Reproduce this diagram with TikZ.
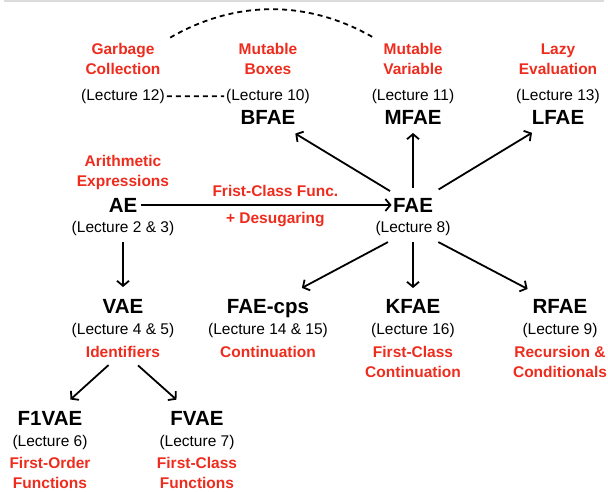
\documentclass[tikz,border=0pt]{standalone}
\usepackage{fontspec}
\setmainfont{Liberation Sans}
\usetikzlibrary{positioning, arrows.meta}
\definecolor{featred}{RGB}{238,44,30}

\begin{document}
\begin{tikzpicture}[
        x=1pt, y=1pt,
        lang/.style={font=\fontsize{20.5}{24}\selectfont\bfseries, inner sep=0, outer sep=0, text height=15pt, text depth=0pt}, % language name
        lec/.style={font=\fontsize{15.5}{18}\selectfont, inner sep=0, outer sep=0, text height=11.5pt, text depth=3pt}, % lecture number
        feat/.style={font=\fontsize{15.5}{20}\selectfont\bfseries, text=featred, align=center, inner sep=0}, % feature in red
        arr/.style={line width=1.8pt, -{Straight Barb[length=5pt, width=12pt]}},
        dashline/.style={line width=1.8pt, dash pattern=on 5pt off 4pt}
    ]
    \useasboundingbox (0,0) rectangle (608,-492);
    \fill[black!14] (4,0) rectangle (604,-2.5);

    % top row, lecture above the name
    \foreach \n/\x/\t/\l in {bfae/268/BFAE/10, mfae/413/MFAE/11, lfae/558/LFAE/13} {
        \node[lang] (\n) at (\x,-117) {\t};
        \node[lec, above=6pt of \n] (\n-l) {(Lecture \l)};
    }
    \node[lec] (gc-l) at (123,-96.3) {(Lecture 12)};

    % the other languages, lecture below the name
    \foreach \n/\x/\y/\t/\l in {ae/123/-205/AE/2 \& 3, fae/413/-205/FAE/8,
            vae/123/-306/VAE/4 \& 5, faecps/268/-306/FAE-cps/14 \& 15,
            kfae/413/-306/KFAE/16, rfae/560/-306/RFAE/9,
            fonevae/50/-418/F1VAE/6, fvae/197/-418/FVAE/7} {
        \node[lang] (\n) at (\x,\y) {\t};
        \node[lec, below=9pt of \n] (\n-l) {(Lecture \l)};
    }

    % features
    \node[feat] (gc) at (123,-59) {Garbage\\Collection};
    \node[feat] (mb) at (268,-59) {Mutable\\Boxes};
    \node[feat] (mv) at (413,-59) {Mutable\\Variable};
    \node[feat] (le) at (558,-59) {Lazy\\Evaluation};
    \node[feat] (ax) at (123,-172) {Arithmetic\\Expressions};
    \node[feat] (id) at (123,-352) {Identifiers};
    \node[feat] (cont) at (268,-352) {Continuation};
    \node[feat] (fcc) at (413,-362) {First-Class\\Continuation};
    \node[feat] (rc) at (560,-362) {Recursion \&\\Conditionals};
    \node[feat] (fof) at (50,-473) {First-Order\\Functions};
    \node[feat] (fcfn) at (197,-473) {First-Class\\Functions};

    % arrows
    \draw[arr, shorten <=4pt, shorten >=1.5pt] (ae) -- node[feat, pos=0.54, above=7pt] (fcf) {Frist-Class Func.}
        node[feat, pos=0.54, below=6.5pt] (ds) {+ Desugaring} (fae);
    \foreach \a/\b/\s/\e in {fae/bfae/12.4/17.5, fae/mfae/9.5/8.5, fae/lfae/15.5/16,
            fae-l/faecps/13/22.5, fae-l/kfae/6/10.5, fae-l/rfae/13/20.5,
            ae-l/vae/6/11.5, id/fonevae/10.7/16.4, id/fvae/11.3/16.3} {
        \draw[arr, shorten <=\s pt, shorten >=\e pt] (\a) -- (\b);
    }

    % dashed links
    \draw[dashline, shorten <=2pt, shorten >=2pt] (gc-l) -- (bfae-l);
    \draw[dashline, shorten <=11pt, shorten >=11pt] (gc.north east) to[bend left=30] (mv.north west);
\end{tikzpicture}
\end{document}
